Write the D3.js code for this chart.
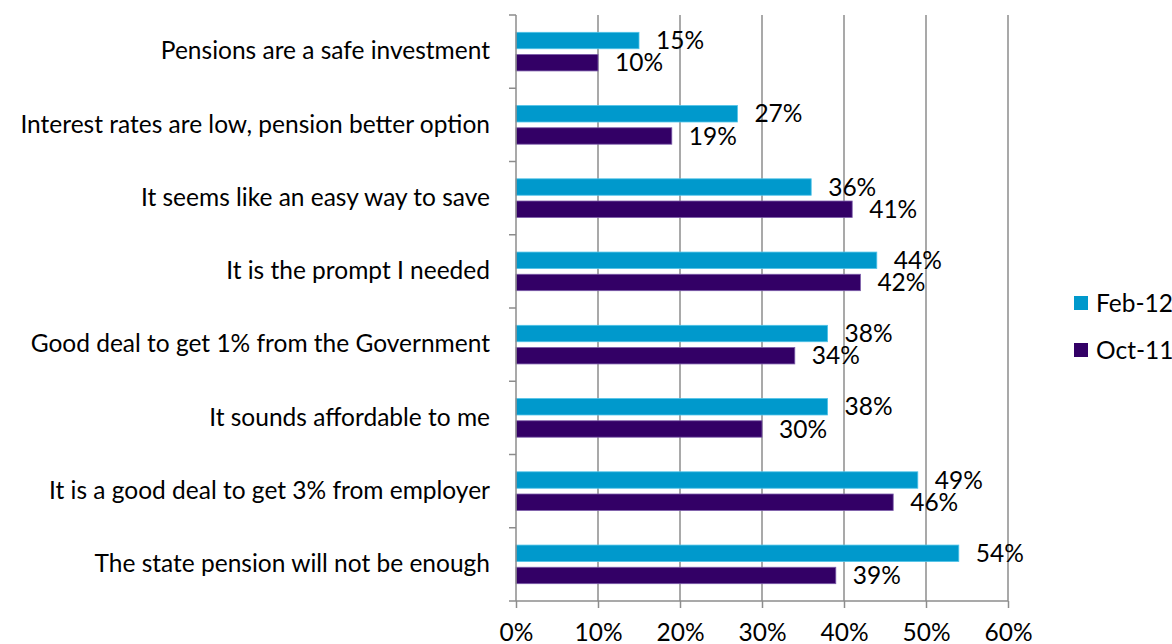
<!DOCTYPE html>
<html>
<head>
<meta charset="utf-8">
<script src="https://cdn.jsdelivr.net/npm/d3@7"></script>
<style>
  html, body { margin: 0; padding: 0; background: #fff; }
  svg { display: block; }
  text { font-family: Lato, "Open Sans", sans-serif; fill: #000; }
</style>
</head>
<body>
<svg id="chart" width="1172" height="644"></svg>
<script>
// Reasons for staying in the workplace pension scheme
const categories = [
  "Pensions are a safe investment",
  "Interest rates are low, pension better option",
  "It seems like an easy way to save",
  "It is the prompt I needed",
  "Good deal to get 1% from the Government",
  "It sounds affordable to me",
  "It is a good deal to get 3% from employer",
  "The state pension will not be enough"
];
const seriesNames = ["Feb-12", "Oct-11"];
const feb12 = [15, 27, 36, 44, 38, 38, 49, 54];
const oct11 = [10, 19, 41, 42, 34, 30, 46, 39];
const xTicks = [0, 10, 20, 30, 40, 50, 60];

const colors = { "Feb-12": "#0099cc", "Oct-11": "#330066" };
const strokes = { "Feb-12": "#4fc3e8", "Oct-11": "#7a5aa8" };

const svg = d3.select("#chart");
const fontSize = 24.5;

const x = d3.scaleLinear().domain([0, 60]).range([516, 1008]);
const y = d3.scaleBand().domain(categories).range([15, 601]).padding(0);

// vertical gridlines
svg.append("g")
  .selectAll("line")
  .data(xTicks.slice(1))
  .join("line")
  .attr("x1", d => x(d)).attr("x2", d => x(d))
  .attr("y1", 15).attr("y2", 601)
  .attr("stroke", "#8c8c8c").attr("stroke-width", 1.5);

// bars
const rows = categories.map((c, i) => ({ c, vals: [
  { s: "Feb-12", v: feb12[i] },
  { s: "Oct-11", v: oct11[i] }
]}));

const inner = d3.scaleBand().domain(seriesNames)
  .range([0, y.bandwidth()]).paddingInner(0.26).paddingOuter(0.78);

const groups = svg.append("g").selectAll("g")
  .data(rows).join("g")
  .attr("transform", d => `translate(0,${y(d.c)})`);

groups.selectAll("rect")
  .data(d => d.vals).join("rect")
  .attr("x", x(0))
  .attr("y", d => inner(d.s))
  .attr("width", d => x(d.v) - x(0))
  .attr("height", inner.bandwidth())
  .attr("fill", d => colors[d.s])
  .attr("stroke", d => strokes[d.s])
  .attr("stroke-width", 0.8);

groups.selectAll("text.val")
  .data(d => d.vals).join("text")
  .attr("class", "val")
  .attr("x", d => x(d.v) + 17)
  .attr("y", d => inner(d.s) + inner.bandwidth() / 2)
  .attr("dy", "0.35em")
  .style("font-size", fontSize + "px")
  .text(d => d.v + "%");

// y axis
const yAxis = d3.axisLeft(y).tickSize(0).tickPadding(26).tickFormat(d => d);
const ya = svg.append("g").attr("transform", `translate(${x(0)},0)`).call(yAxis);
ya.select(".domain").remove();
ya.selectAll("text").style("font-size", fontSize + "px").attr("fill", "#000");
svg.append("g").selectAll("line")
  .data(d3.range(categories.length + 1))
  .join("line")
  .attr("x1", x(0) - 7).attr("x2", x(0))
  .attr("y1", i => 15 + i * y.step()).attr("y2", i => 15 + i * y.step())
  .attr("stroke", "#8c8c8c").attr("stroke-width", 1.5);
svg.append("line")
  .attr("x1", x(0)).attr("x2", x(0)).attr("y1", 15).attr("y2", 601)
  .attr("stroke", "#8c8c8c").attr("stroke-width", 1.5);

// x axis
const xAxis = d3.axisBottom(x).tickValues(xTicks).tickSize(7)
  .tickFormat(d => d + "%");
const xa = svg.append("g").attr("transform", "translate(0,601)").call(xAxis);
xa.select(".domain").remove();
xa.selectAll("line").attr("stroke", "#8c8c8c").attr("stroke-width", 1.5);
xa.selectAll("text")
  .attr("y", 40).attr("dy", 0)
  .style("font-size", fontSize + "px").attr("fill", "#000");
svg.append("line")
  .attr("x1", x(0)).attr("x2", x(60)).attr("y1", 601).attr("y2", 601)
  .attr("stroke", "#8c8c8c").attr("stroke-width", 1.5);

// legend
const legend = svg.append("g").selectAll("g")
  .data(seriesNames).join("g")
  .attr("transform", (d, i) => `translate(1074,${303 + i * 47})`);
legend.append("rect")
  .attr("x", 0).attr("y", -7).attr("width", 14).attr("height", 14)
  .attr("fill", d => colors[d]);
legend.append("text")
  .attr("x", 22).attr("y", 0).attr("dy", "0.35em")
  .style("font-size", fontSize + "px")
  .text(d => d);
</script>
</body>
</html>
